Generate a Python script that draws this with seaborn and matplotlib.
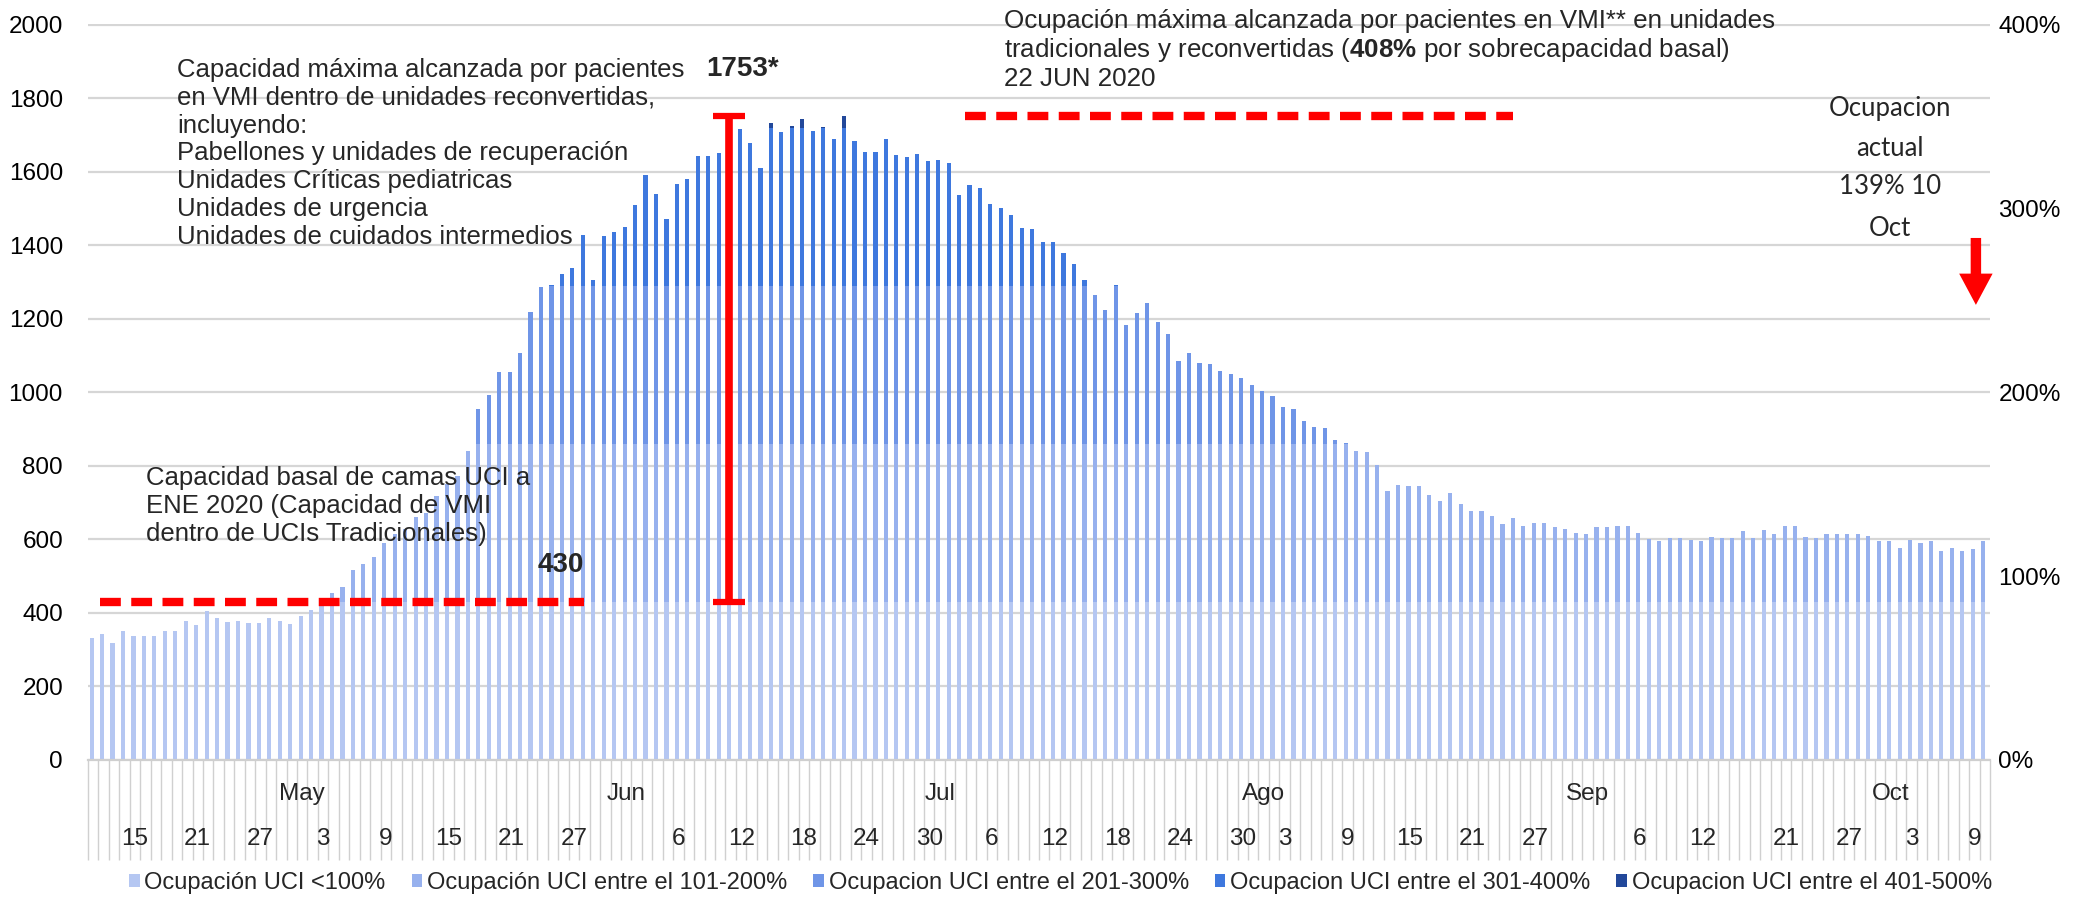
import numpy as np
import pandas as pd
import matplotlib
matplotlib.use("Agg")
import matplotlib.pyplot as plt
from matplotlib.patches import Patch, FancyArrow
import seaborn as sns

# ---------------------------------------------------------------------------
# Daily ICU patients on invasive mechanical ventilation (VMI), 2020
# ---------------------------------------------------------------------------
START_DATE = "2020-04-11"
END_DATE = "2020-10-10"
MISSING_DAYS = ["2020-09-18"]          # no report that day

PACIENTES_VMI = [
    331, 343, 318, 350, 337, 337, 337, 350, 350, 377,
    366, 406, 386, 375, 377, 372, 372, 386, 377, 370,
    393, 408, 433, 453, 471, 518, 533, 551, 590, 614,
    628, 660, 673, 718, 750, 773, 841, 956, 993, 1056,
    1056, 1108, 1218, 1287, 1293, 1323, 1338, 1429, 1305, 1426,
    1435, 1451, 1510, 1592, 1540, 1472, 1568, 1580, 1644, 1644,
    1652, 1665, 1716, 1679, 1611, 1732, 1707, 1725, 1744, 1710,
    1721, 1690, 1753, 1685, 1655, 1655, 1690, 1645, 1641, 1648,
    1630, 1633, 1625, 1538, 1564, 1557, 1512, 1501, 1482, 1448,
    1444, 1410, 1410, 1379, 1349, 1307, 1266, 1225, 1293, 1184,
    1217, 1244, 1192, 1160, 1085, 1107, 1081, 1077, 1058, 1050,
    1040, 1020, 1005, 991, 961, 955, 922, 907, 902, 871,
    863, 841, 837, 802, 731, 749, 744, 746, 720, 705,
    727, 697, 678, 678, 663, 641, 659, 637, 644, 644,
    633, 629, 618, 614, 633, 633, 637, 637, 618, 600,
    595, 603, 603, 599, 595, 607, 603, 603, 622, 603,
    625, 614, 637, 637, 607, 603, 614, 614, 614, 614,
    610, 595, 595, 577, 599, 591, 595, 568, 577, 568,
    573, 597,
]

BASAL_CAPACITY = 430      # ICU beds, January 2020
PEAK_PATIENTS = 1753      # maximum reached (22 JUN 2020)
PEAK_MARK_DATE = "2020-06-11"
ARROW_DATE = "2020-10-09"

BAND_UPPER = [430, 860, 1290, 1720, np.inf]
BAND_LABELS = [
    "Ocupación UCI <100%",
    "Ocupación UCI entre el 101-200%",
    "Ocupacion UCI entre el 201-300%",
    "Ocupacion UCI entre el 301-400%",
    "Ocupacion UCI entre el 401-500%",
]
BAND_COLORS = ["#b5c7f2", "#97b1ee", "#6f95e7", "#3e78de", "#22489a"]

DAY_TICKS = [
    "2020-04-15", "2020-04-21", "2020-04-27", "2020-05-03", "2020-05-09",
    "2020-05-15", "2020-05-21", "2020-05-27", "2020-06-06", "2020-06-12",
    "2020-06-18", "2020-06-24", "2020-06-30", "2020-07-06", "2020-07-12",
    "2020-07-18", "2020-07-24", "2020-07-30", "2020-08-03", "2020-08-09",
    "2020-08-15", "2020-08-21", "2020-08-27", "2020-09-06", "2020-09-12",
    "2020-09-21", "2020-09-27", "2020-10-03", "2020-10-09",
]
MONTH_NAMES = ["May", "Jun", "Jul", "Ago", "Sep", "Oct"]
MONTH_STARTS = ["2020-05-01", "2020-06-01", "2020-07-01",
                "2020-08-01", "2020-09-01", "2020-10-01"]

LEFT_TICKS = list(range(0, 2001, 200))
PCT_TICKS = [0, 100, 200, 300, 400]

# ---------------------------------------------------------------------------
# Data frames
# ---------------------------------------------------------------------------
fechas = pd.date_range(START_DATE, END_DATE).difference(pd.to_datetime(MISSING_DAYS))
df = pd.DataFrame({"fecha": fechas.strftime("%Y-%m-%d"), "pacientes": PACIENTES_VMI})
orden = list(df["fecha"])
pos = {f: i for i, f in enumerate(orden)}

# each band is drawn as a bar clipped at its upper limit; lower bands on top
capas = pd.concat(
    [pd.DataFrame({"fecha": df["fecha"],
                   "tope": np.minimum(df["pacientes"], up),
                   "banda": lab})
     for up, lab in zip(BAND_UPPER, BAND_LABELS)],
    ignore_index=True,
)

# ---------------------------------------------------------------------------
# Figure
# ---------------------------------------------------------------------------
sns.set_theme(style="white")
plt.rcParams["font.family"] = ["Liberation Sans", "DejaVu Sans"]
plt.rcParams["mathtext.fontset"] = "custom"
plt.rcParams["mathtext.rm"] = "Liberation Sans"
plt.rcParams["mathtext.bf"] = "Liberation Sans:bold"

W, H = 2081, 909
fig = plt.figure(figsize=(W / 100, H / 100), dpi=100)
ax = fig.add_axes([88 / W, 1 - 760 / H, (1990 - 88) / W, (760 - 24) / H])

sns.barplot(
    data=capas, x="fecha", y="tope", hue="banda",
    order=orden, hue_order=BAND_LABELS[::-1],
    palette=dict(zip(BAND_LABELS, BAND_COLORS)),
    dodge=False, width=0.4, saturation=1, errorbar=None,
    legend=False, linewidth=0, edgecolor="none", ax=ax,
)

n = len(orden)
ax.set_xlim(-0.35, n - 0.35)
ax.set_ylim(0, 2002)
ax.set_yticks(LEFT_TICKS)
ax.set_yticklabels([str(t) for t in LEFT_TICKS])
ax.set_xticks([])
ax.set_xlabel("")
ax.set_ylabel("")
ax.tick_params(axis="y", length=0, pad=18, labelsize=17.5, colors="black")
ax.grid(axis="y", color="#d6d6d6", lw=1.6)
ax.set_axisbelow(True)
for s in ["top", "right", "left"]:
    ax.spines[s].set_visible(False)
ax.spines["bottom"].set_color("#cfcfcf")
ax.spines["bottom"].set_linewidth(1.6)

# secondary percentage axis (100% = 500 patients)
ax2 = ax.twinx()
ax2.set_ylim(0, 400.4)
ax2.set_yticks(PCT_TICKS)
ax2.set_yticklabels([f"{p}%" for p in PCT_TICKS])
ax2.tick_params(axis="y", length=0, pad=6, labelsize=17.5, colors="black")
ax2.grid(False)
for s in ax2.spines.values():
    s.set_visible(False)

# two-level category axis: separators, months and days
xt = ax.get_xaxis_transform()
ax.vlines(np.arange(n + 1) - 0.35, 0, -0.136, transform=xt,
          colors="#d0d0d0", lw=1.0, clip_on=False)
for name, d in zip(MONTH_NAMES, MONTH_STARTS):
    ax.text(pos[d] + 0.15, -0.046, name, transform=xt, ha="center",
            va="center", fontsize=17.5)
for d in DAY_TICKS:
    ax.text(pos[d] + 0.15, -0.107, str(pd.Timestamp(d).day), transform=xt,
            ha="center", va="center", fontsize=17.5)

# ---------------------------------------------------------------------------
# Annotations
# ---------------------------------------------------------------------------
red = "#ff0000"
dash = (0, (2.5, 1.25))

# basal capacity
ax.hlines(BASAL_CAPACITY, 0.8, 47.1, colors=red, lw=6, linestyles=dash)
ax.text(44.9, BASAL_CAPACITY + 100, str(BASAL_CAPACITY), ha="center",
        va="center", fontsize=20, fontweight="bold")
ax.text(5.2, 691,
        "Capacidad basal de camas UCI a\nENE 2020 (Capacidad de VMI\n"
        "dentro de UCIs Tradicionales)",
        ha="left", va="center", fontsize=18.5, linespacing=1.22)

# peak range bar
xp = pos[PEAK_MARK_DATE]
ax.errorbar(xp, (BASAL_CAPACITY + PEAK_PATIENTS) / 2,
            yerr=(PEAK_PATIENTS - BASAL_CAPACITY) / 2, fmt="none",
            ecolor=red, elinewidth=5.5, capsize=11.5, capthick=4.5, zorder=5)
ax.text(xp + 1.3, 1880, f"{PEAK_PATIENTS}*", ha="center", va="center",
        fontsize=20, fontweight="bold")
ax.text(8.15, 1650,
        "Capacidad máxima alcanzada por pacientes\n"
        "en VMI dentro de unidades reconvertidas,\n"
        "incluyendo:\n"
        "Pabellones y unidades de recuperación\n"
        "Unidades Críticas pediatricas\n"
        "Unidades de urgencia\n"
        "Unidades de cuidados intermedios",
        ha="left", va="center", fontsize=18.5, linespacing=1.2)

# maximum occupancy line
ax.hlines(PEAK_PATIENTS, 83.6, 136.0, colors=red, lw=6, linestyles=dash)
top_lines = [
    "Ocupación máxima alcanzada por pacientes en VMI** en unidades",
    r"tradicionales y reconvertidas ($\mathbf{408\%}$ por sobrecapacidad basal)",
    "22 JUN 2020",
]
for y, t in zip([2010, 1930, 1853], top_lines):
    ax.text(87.3, y, t, ha="left", va="center", fontsize=18.7)

# current occupancy note
for y, t in zip([1772, 1664, 1561, 1447], ["Ocupacion", "actual", "139% 10", "Oct"]):
    ax.text(172.1, y, t, ha="center", va="center", fontsize=18.5,
            family=["Lato", "DejaVu Sans"])
xa = pos[ARROW_DATE] + 0.3
ax.add_patch(FancyArrow(xa, 1420, 0, -182, width=1.0, head_width=3.2,
                        head_length=85, length_includes_head=True,
                        color=red, lw=0, clip_on=False, zorder=6))

# legend
handles = [Patch(facecolor=c, edgecolor="none") for c in BAND_COLORS]
fig.legend(handles, BAND_LABELS, loc="center", bbox_to_anchor=(0.5096, 0.029),
           ncol=5, frameon=False, fontsize=17, handlelength=0.45,
           handleheight=0.45, handletextpad=0.2, columnspacing=1.1)

fig.savefig("out.png", dpi=100, facecolor="white")
